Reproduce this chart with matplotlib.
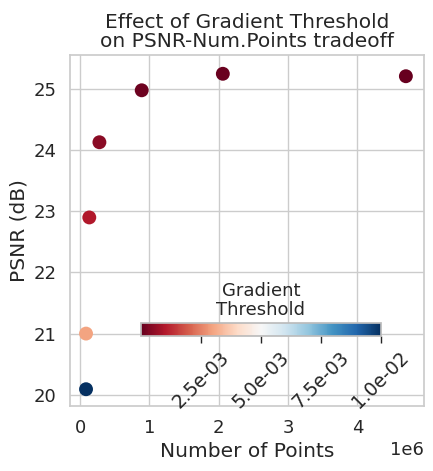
import matplotlib
matplotlib.use("Agg")
import matplotlib.pyplot as plt
import seaborn as sns
import numpy as np

num_points = [4.70e6, 2.06e6, 0.89e6, 0.28e6, 0.134e6, 0.087e6, 0.087e6]
psnr = [25.21, 25.25, 24.98, 24.13, 22.90, 21.00, 20.09]
grad_threshold = [1e-5, 5e-5, 1e-4, 5e-4, 1e-3, 3e-3, 1e-2]
cbar_ticks = [2.5e-3, 5.0e-3, 7.5e-3, 1.0e-2]

sns.set_theme(style="whitegrid")
plt.rcParams['font.family'] = ['DejaVu Sans']

fig = plt.figure(figsize=(4.33, 4.71), dpi=100)
ax = fig.add_axes([0.1617, 0.1386, 0.8173, 0.7446])
sc = ax.scatter(num_points, psnr, c=grad_threshold, cmap="RdBu", s=100,
                edgecolors="none", vmin=min(grad_threshold), vmax=max(grad_threshold), zorder=3)
ax.set_xlim(-0.144e6, 4.96e6)
ax.set_ylim(19.82, 25.557)
ax.set_xticks([0, 1e6, 2e6, 3e6, 4e6])
ax.set_yticks([20, 21, 22, 23, 24, 25])
ax.tick_params(labelsize=13)
ax.xaxis.get_offset_text().set_fontsize(13)
ax.set_xlabel("Number of Points", fontsize=14.5)
ax.set_ylabel("PSNR (dB)", fontsize=14.5)
ax.set_title("Effect of Gradient Threshold\non PSNR-Num.Points tradeoff", fontsize=14.5, linespacing=1.0)

cax = fig.add_axes([0.3256, 0.2873, 0.554, 0.027])
cb = fig.colorbar(sc, cax=cax, orientation="horizontal")
cb.set_ticks(cbar_ticks)
cb.set_ticklabels([f"{t:.1e}" for t in cbar_ticks])
cax.tick_params(labelsize=13.5, length=5, width=1, color="#262626", bottom=True)
for lab in cax.get_xticklabels():
    lab.set_rotation(45)
cax.set_title("Gradient\nThreshold", fontsize=13, linespacing=1.05, pad=6)
cb.outline.set_edgecolor("#bbbbbb")

fig.savefig("out.png", dpi=100)
